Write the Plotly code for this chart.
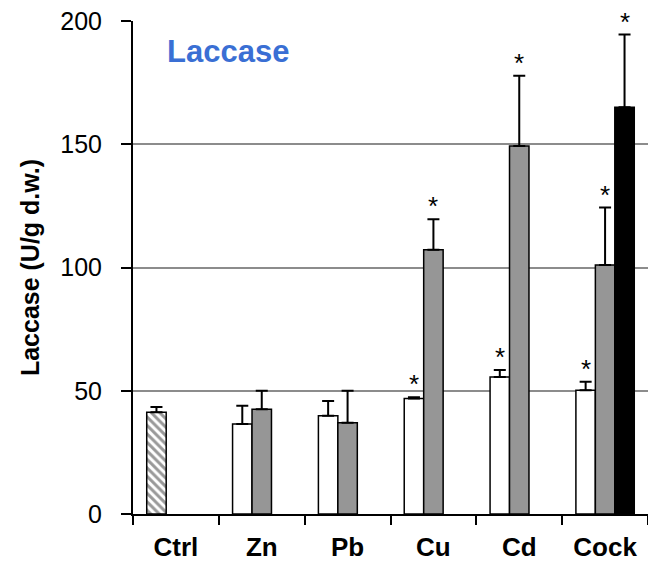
import plotly.graph_objects as go

categories = ["Ctrl", "Zn", "Pb", "Cu", "Cd", "Cock"]

# series 1: Ctrl (hatched) and 1st treatment (white)
s1_values = [41.3, 36.5, 39.9, 46.9, 55.6, 50.2]
s1_err = [2.1, 7.4, 5.9, 0.5, 2.8, 3.5]
s1_sig = [False, False, False, True, True, True]

# series 2: gray
s2_values = [None, 42.5, 37.0, 107.2, 149.3, 101.0]
s2_err = [None, 7.5, 13.0, 12.4, 28.5, 23.3]
s2_sig = [False, False, False, True, True, True]

# series 3: black
s3_values = [None, None, None, None, None, 165.0]
s3_err = [None, None, None, None, None, 29.5]
s3_sig = [False, False, False, False, False, True]

y_ticks = [0, 50, 100, 150, 200]

FONT = "Liberation Sans, Arial, sans-serif"

def err(vals):
    return dict(type="data", array=vals, arrayminus=[0 if v is not None else None for v in vals],
                symmetric=False, color="black", thickness=2, width=6, visible=True)

fig = go.Figure()
fig.add_trace(go.Bar(
    x=categories, y=s1_values, error_y=err(s1_err),
    marker=dict(color="white", line=dict(color="black", width=1.5),
                pattern=dict(shape=["\\"] + [""] * (len(categories) - 1),
                             fgcolor="#333333", bgcolor="white", size=6, solidity=0.5)),
    showlegend=False))
fig.add_trace(go.Bar(
    x=categories, y=s2_values, error_y=err(s2_err),
    marker=dict(color="#969696", line=dict(color="black", width=1.5)),
    showlegend=False))
fig.add_trace(go.Bar(
    x=categories, y=s3_values, error_y=err(s3_err),
    marker=dict(color="black", line=dict(color="black", width=1.5)),
    showlegend=False))

W, H = 648, 565
ML, MR, MT, MB = 133, 0, 21, 51
BARGAP = 0.32
cat_px = (W - ML - MR) / len(categories)
slot_px = cat_px * (1 - BARGAP) / 3

annotations = []
for k, (vals, errs, sig) in enumerate([(s1_values, s1_err, s1_sig),
                                       (s2_values, s2_err, s2_sig),
                                       (s3_values, s3_err, s3_sig)]):
    for c, v, e, s in zip(categories, vals, errs, sig):
        if s and v is not None:
            annotations.append(dict(x=c, y=v + e, xref="x", yref="y", text="*",
                                    showarrow=False, xshift=(k - 1) * slot_px,
                                    yanchor="bottom", yshift=-4,
                                    font=dict(family=FONT, size=26, color="black")))

annotations.append(dict(x=0.062, y=0.978, xref="paper", yref="paper", text="<b>Laccase</b>",
                        showarrow=False, xanchor="left", yanchor="top",
                        font=dict(family=FONT, size=31, color="#3a6fd4")))

fig.update_layout(
    width=W, height=H,
    margin=dict(l=ML, r=MR, t=MT, b=MB),
    paper_bgcolor="white", plot_bgcolor="white",
    barmode="group", bargap=BARGAP, bargroupgap=0,
    annotations=annotations,
    font=dict(family=FONT, color="black"),
)
fig.update_xaxes(
    type="category", tickson="boundaries", ticks="outside", ticklen=9, tickwidth=2,
    tickcolor="black", showline=True, linecolor="black", linewidth=2,
    tickfont=dict(family=FONT, size=26, color="black"),
    ticktext=[f"<b>{c}</b>" for c in categories], tickvals=categories,
    ticklabelstandoff=9, showgrid=False, automargin=False,
)
fig.update_yaxes(
    range=[0, 200], tickvals=y_ticks, ticks="outside", ticklen=10, tickwidth=2,
    tickcolor="black", showline=True, linecolor="black", linewidth=2,
    showgrid=True, gridcolor="#8c8c8c", gridwidth=1.5, zeroline=False,
    tickfont=dict(family=FONT, size=25, color="black"), ticklabelstandoff=14,
    title=dict(text="<b>Laccase (U/g d.w.)</b>", font=dict(family=FONT, size=25, color="black"),
               standoff=14),
    automargin=False,
)

fig.write_html("out.html")
